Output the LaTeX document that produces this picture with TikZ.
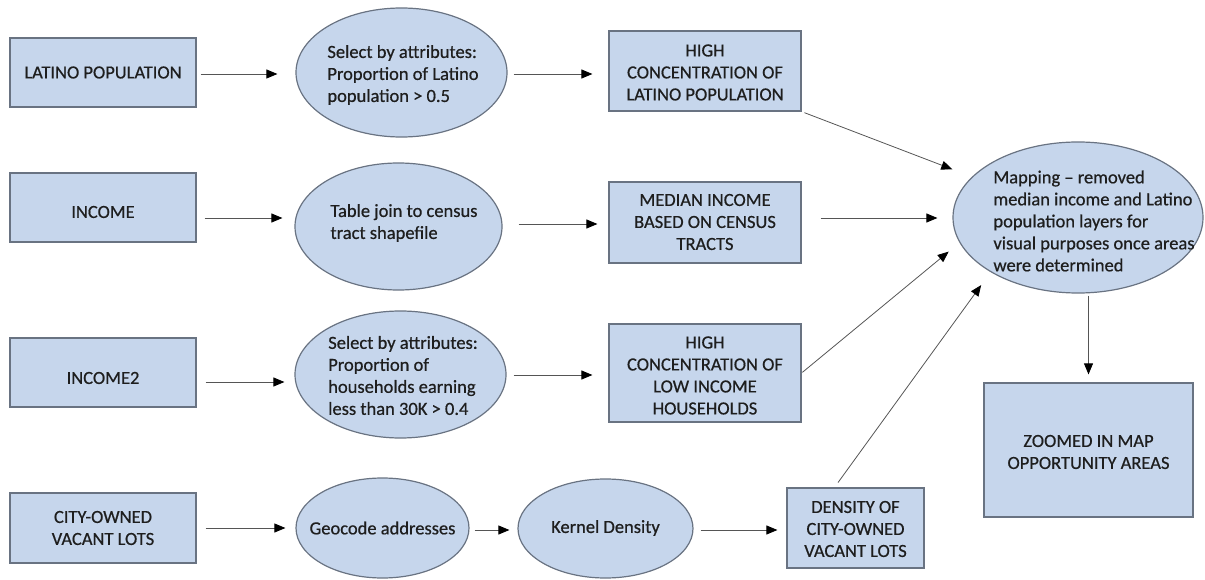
\documentclass[tikz,border=0pt]{standalone}
\usepackage{fontspec}
\setmainfont{Carlito}
\newfontfamily\lblfont{Carlito}[FakeBold=0.6,Ligatures=TeX]
\usetikzlibrary{arrows.meta,shapes.geometric}
\definecolor{boxfill}{RGB}{198,214,236}
\definecolor{boxline}{RGB}{105,115,130}
\definecolor{conn}{RGB}{85,85,85}
\definecolor{txt}{RGB}{30,30,30}
\tikzset{
  base/.style={draw=boxline, fill=boxfill, line width=1.2pt, inner sep=0pt},
  rbox/.style={base, rectangle, minimum width=#1},
  ebox/.style={base, ellipse},
  lbl/.style={text=txt, font=\lblfont\fontsize{18.5}{22}\selectfont, inner sep=0pt, align=center},
  llbl/.style={lbl, align=left},
  arr/.style={draw=conn, line width=0.8pt, -{Triangle[length=11pt,width=9pt,black]}}
}
\begin{document}
\begin{tikzpicture}[x=1pt,y=-1pt]
\useasboundingbox (0,0) rectangle (1205,580);
% left column
\node[rbox=186, minimum height=69] (a1) at (103,72.5) {};
\node[lbl] (a1t) at (a1.center) {LATINO POPULATION};
\node[rbox=186, minimum height=69] (a2) at (103,207.5) {};
\node[lbl] (a2t) at (103,212) {INCOME};
\node[rbox=186, minimum height=69] (a3) at (103,372.5) {};
\node[lbl] (a3t) at (103,378) {INCOME2};
\node[rbox=186, minimum height=70] (a4) at (103,528) {};
\node[lbl] (a4t) at (103,528) {CITY-OWNED\\VACANT LOTS};
% ellipses
\node[ebox, minimum width=211, minimum height=129] (e1) at (401.5,72.5) {};
\node[llbl] (e1t) at (403,75) {Select by attributes:\\Proportion of Latino\\population > 0.5};
\node[ebox, minimum width=207, minimum height=127] (e2) at (398.5,226.5) {};
\node[llbl] (e2t) at (404,223) {Table join to census\\tract shapefile};
\node[ebox, minimum width=211, minimum height=127] (e3) at (400.5,374.5) {};
\node[llbl] (e3t) at (403,375.5) {Select by attributes:\\Proportion of\\households earning\\less than 30K > 0.4};
\node[ebox, minimum width=173, minimum height=100] (geo) at (382.5,528) {};
\node[lbl] (geot) at (382.5,528) {Geocode addresses};
\node[ebox, minimum width=175, minimum height=99] (ker) at (605.5,528.5) {};
\node[lbl] (kert) at (605.5,528) {Kernel Density};
% middle boxes
\node[rbox=192, minimum height=80] (b1) at (705,71) {};
\node[lbl] (b1t) at (705,72.5) {HIGH\\CONCENTRATION OF\\LATINO POPULATION};
\node[rbox=192, minimum height=81] (b2) at (705,222.5) {};
\node[lbl] (b2t) at (705,222) {MEDIAN INCOME\\BASED ON CENSUS\\TRACTS};
\node[rbox=192, minimum height=98] (b3) at (705,373) {};
\node[lbl] (b3t) at (705,375.5) {HIGH\\CONCENTRATION OF\\LOW INCOME\\HOUSEHOLDS};
\node[rbox=137, minimum height=80] (den) at (855.5,528) {};
\node[lbl] (dent) at (855.5,529) {DENSITY OF\\CITY-OWNED\\VACANT LOTS};
% right
\node[ebox, minimum width=250, minimum height=151] (map) at (1078,217.5) {};
\node[llbl] (mapt) at (1094,221) {Mapping – removed\\median income and Latino\\population layers for\\visual purposes once areas\\were determined};
\node[rbox=209, minimum height=134] (zoom) at (1088.5,450) {};
\node[lbl] (zoomt) at (1088.5,452) {ZOOMED IN MAP\\OPPORTUNITY AREAS};
% row reference coordinates
\coordinate (r1) at (0,74);
\coordinate (r2) at (0,218);
\coordinate (r3) at (0,382);
\coordinate (r4) at (0,528);
\coordinate (s1) at (0,74);
\coordinate (s2) at (0,224);
\coordinate (s3) at (0,375);
\coordinate (s4) at (0,530);
\coordinate (s5) at (0,218);
% horizontal connectors
\draw[arr, shorten <=4pt, shorten >=18pt] (a1.east |- r1) -- (e1.west |- r1);
\draw[arr, shorten <=8pt, shorten >=12pt] (a2.east |- r2) -- (e2.west |- r2);
\draw[arr, shorten <=9pt, shorten >=10pt] (a3.east |- r3) -- (e3.west |- r3);
\draw[arr, shorten <=9pt, shorten >=10pt] (a4.east |- r4) -- (geo.west |- r4);
\draw[arr, shorten <=6pt, shorten >=16pt] (e1.east |- s1) -- (b1.west |- s1);
\draw[arr, shorten <=16pt, shorten >=11pt] (e2.east |- s2) -- (b2.west |- s2);
\draw[arr, shorten <=7pt, shorten >=16pt] (e3.east |- s3) -- (b3.west |- s3);
\draw[arr, shorten <=5pt, shorten >=8pt] (geo.east |- s4) -- (ker.west |- s4);
\draw[arr, shorten <=7pt, shorten >=9pt] (ker.east |- s4) -- (den.west |- s4);
\draw[arr, shorten <=19pt, shorten >=15pt] (b2.east |- s5) -- (map.west |- s5);
% diagonal connectors
\draw[arr, shorten <=3pt, shorten >=21pt] (b1.south east) -- (map.159.5);
\draw[arr, shorten <=1pt, shorten >=14pt] (b3.east) -- (map.192.8);
\draw[arr, shorten <=6pt, shorten >=16pt] (den.north) ++(-21,0) coordinate (dstart) (dstart) -- (map.212.2);
% down
\draw[arr, shorten <=2pt, shorten >=8pt] (zoom.north |- map.south) -- (zoom.north);
\end{tikzpicture}
\end{document}
